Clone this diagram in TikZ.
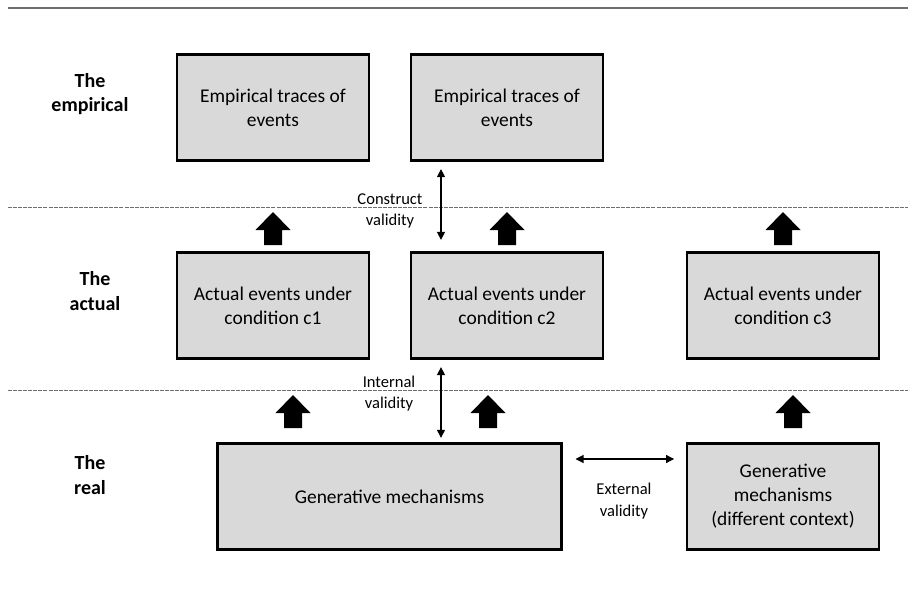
\documentclass[tikz,border=0pt]{standalone}
\usepackage{fontspec}
\setmainfont{Carlito}
\usepackage{tikz}
\usetikzlibrary{positioning,calc,arrows.meta}
\definecolor{boxgray}{RGB}{217,217,217}
\definecolor{rulegray}{RGB}{110,110,110}

\tikzset{
	levelbox/.style={draw,line width=2.2pt,fill=boxgray,minimum width=144pt,minimum height=79pt,align=center,font=\fontsize{14.6}{18}\selectfont},
	levellabel/.style={align=center,font=\bfseries\fontsize{15}{18.5}\selectfont},
	validitylabel/.style={align=center,font=\fontsize{12.4}{16}\selectfont},
	validity/.style={line width=0.8pt,{Triangle[width=6pt,length=6pt]}-{Triangle[width=6pt,length=6pt]}},
	levelrule/.style={rulegray,line width=0.6pt,dash pattern=on 3pt off 0.8pt},
	uparrow/.pic={\fill[black] (-9,0) -- (-9,-15) -- (-17.5,-15) -- (0,-33) -- (17.5,-15) -- (9,-15) -- (9,0) -- cycle;}
}

\begin{document}
\begin{tikzpicture}[x=0.75pt,y=-0.75pt]
	\useasboundingbox (0,0) rectangle (908,593);
	
	\draw[rulegray,line width=0.8pt] (8,8) -- (908,8);
	\draw[levelrule] (8,207) -- (908,207);
	\draw[levelrule] (8,390) -- (908,390);
	
	\node[levellabel] (empirical) at (90,94) {The\\empirical};
	\node[levellabel] (actual) at (95,291) {The\\actual};
	\node[levellabel] (real) at (90,475) {The\\real};
	
	\node[levelbox] (E1) at (273,107.5) {Empirical traces of\\events};
	\node[levelbox] (E2) at (507,107.5) {Empirical traces of\\events};
	
	\node[levelbox] (A1) at (273,305.5) {Actual events under\\condition c1};
	\node[levelbox] (A2) at (507,305.5) {Actual events under\\condition c2};
	\node[levelbox] (A3) at (783,305.5) {Actual events under\\condition c3};
	
	\node[levelbox,minimum width=258pt] (G1) at (389.5,496.5) {Generative mechanisms};
	\node[levelbox] (G2) at (783,496.5) {Generative\\mechanisms\\(different context)};
	
	%block arrows between the levels
	\pic (upE1) at (273,245) {uparrow};
	\pic (upE2) at (507,245) {uparrow};
	\pic (upE3) at (783,245) {uparrow};
	\pic (upA1) at (293,428) {uparrow};
	\pic (upA2) at (488,428) {uparrow};
	\pic (upA3) at (793,428) {uparrow};
	
	\draw[validity,shorten <=5.6pt,shorten >=8.6pt] ($(E2.south)+(-66,0)$) -- ($(A2.north)+(-66,0)$);
	\node[validitylabel] (construct) at (390,211) {Construct\\validity};
	
	\draw[validity,shorten <=5.6pt,shorten >=3.4pt] ($(A2.south)+(-66,0)$) -- ($(G1.north)+(51.5,0)$);
	\node[validitylabel] (internal) at (389,393.5) {Internal\\validity};
	
	\draw[validity,shorten <=9.4pt,shorten >=8.6pt] ($(G1.east)+(0,-37.5)$) -- ($(G2.west)+(0,-37.5)$);
	\node[validitylabel] (external) at (624,501) {External\\validity};
\end{tikzpicture}
\end{document}
